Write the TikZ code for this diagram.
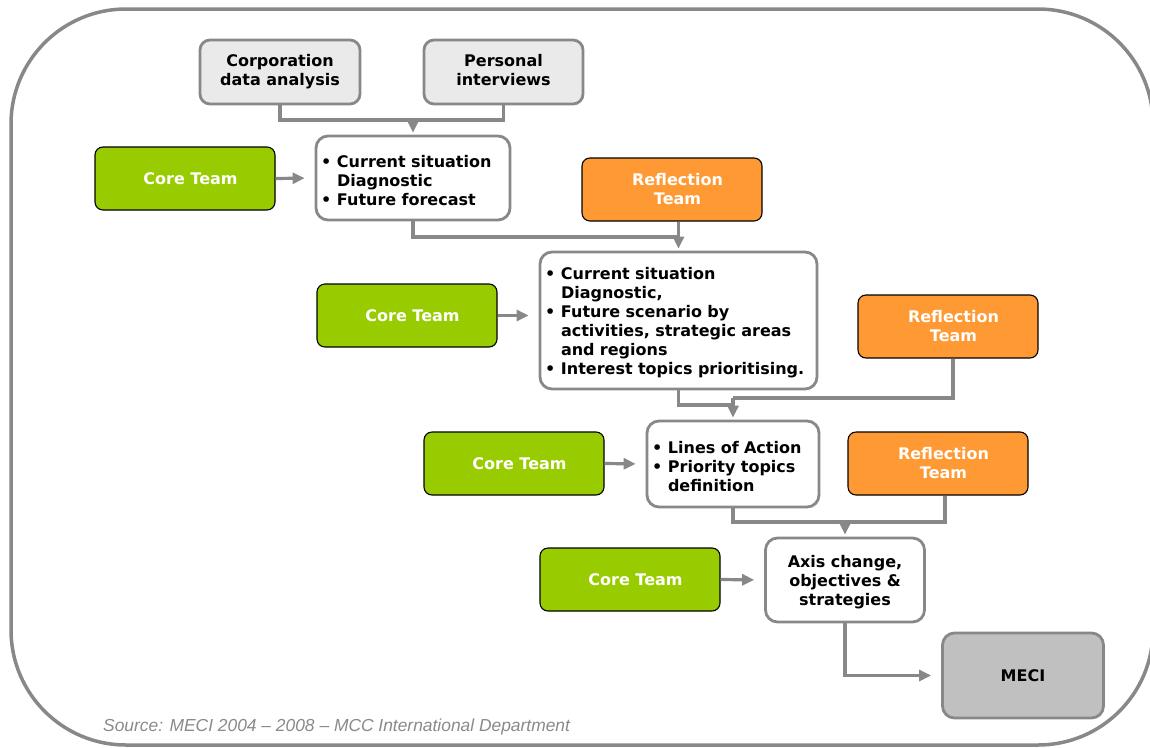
\documentclass[tikz,border=0pt]{standalone}
\usepackage{fontspec}
\setmainfont{DejaVu Sans}
\newfontfamily\srcfont{Liberation Sans}
\usetikzlibrary{arrows.meta}
\definecolor{linegray}{HTML}{888888}
\definecolor{inputgray}{HTML}{EAEAEA}
\definecolor{resultgray}{HTML}{C0C0C0}
\definecolor{coregreen}{HTML}{99CC00}
\definecolor{reflorange}{HTML}{FF9933}
\definecolor{srcgray}{HTML}{8A8A8A}
% bullet, continuation indent, first-line lift, label offset
\newcommand{\bl}{\makebox[16pt][l]{•}}
\newcommand{\cl}{\hspace*{16pt}}
\newcommand{\tl}{\rule{0pt}{17pt}}
\newcommand{\sh}{\hspace*{11pt}}
\begin{document}
\begin{tikzpicture}[x=1pt,y=-1pt,
  every node/.style={font=\bfseries\fontsize{16}{19}\selectfont},
  inputbox/.style={draw=linegray, line width=2.8pt, rounded corners=10pt,
    fill=inputgray, minimum width=160pt, minimum height=64pt, align=center, inner sep=0pt},
  stagebox/.style={draw=linegray, line width=2.8pt, rounded corners=12pt,
    fill=white, inner xsep=5pt, inner ysep=0pt, align=left},
  corebox/.style={draw=black, line width=1.1pt, rounded corners=8pt,
    fill=coregreen, text=white, minimum width=180pt, minimum height=63pt, inner sep=0pt},
  reflbox/.style={draw=black, line width=1.1pt, rounded corners=8pt,
    fill=reflorange, text=white, minimum width=180pt, minimum height=63pt,
    align=center, inner sep=0pt},
  resultbox/.style={draw=linegray, line width=2.8pt, rounded corners=12pt,
    fill=resultgray, minimum width=161pt, minimum height=85pt, inner sep=0pt},
  flow/.style={draw=linegray, line width=3.2pt},
  arr/.style={flow, -{Triangle[length=12pt,width=11pt]}, shorten >=2pt},
  sidearr/.style={arr, shorten >=10pt}
]
\useasboundingbox (0,0) rectangle (1150,747);

% outer frame
\draw[linegray, line width=3.5pt, rounded corners=115pt] (11,9) rectangle (1153,745);

% inputs
\node[inputbox] (corp) at (280,72) {\strut Corporation\\data analysis\strut};
\node[inputbox, minimum width=159pt] (pers) at (503.5,72) {\strut Personal\\interviews\strut};

% stage 1
\node[stagebox, text width=184pt, minimum height=84pt] (box1) at (413,178)
  {\tl\bl Current situation\\\cl Diagnostic\\\bl Future forecast};
\node[corebox] (core1) at (185,178.5) {\sh Core Team};
\node[reflbox] (refl1) at (672,189.5) {\sh Reflection\\\sh Team};

% stage 2
\node[stagebox, text width=267pt, minimum height=137pt] (box2) at (678.5,320.5)
  {\tl\bl Current situation\\\cl Diagnostic,\\\bl Future scenario by\\\cl activities, strategic areas\\\cl and regions\\\bl Interest topics prioritising.};
\node[corebox] (core2) at (407,315.5) {\sh Core Team};
\node[reflbox] (refl2) at (948,326.5) {\sh Reflection\\\sh Team};

% stage 3
\node[stagebox, text width=162pt, minimum height=86pt] (box3) at (733,464)
  {\tl\bl Lines of Action\\\bl Priority topics\\\cl definition};
\node[corebox] (core3) at (514,463.5) {\sh Core Team};
\node[reflbox] (refl3) at (938,463.5) {\sh Reflection\\\sh Team};

% stage 4
\node[stagebox, align=center, text width=149pt, minimum height=84pt] (box4) at (845,580)
  {\tl Axis change,\\objectives \&\\strategies};
\node[corebox] (core4) at (630,579.5) {\sh Core Team};

% result
\node[resultbox] (meci) at (1023,675.5) {MECI};

% source line
\node[font=\srcfont\itshape\fontsize{17.4}{19}\selectfont, text=srcgray, anchor=base west, inner sep=0pt]
  (src) at (103,731) {Source: MECI 2004 – 2008 – MCC International Department};

% junction points
\coordinate (j0) at (413,120);
\coordinate (j1) at (678.5,237);
\coordinate (j2) at (733,405);
\coordinate (j3) at (733,398);
\coordinate (j4) at (845,522);

% connectors
\draw[flow] (corp.south) |- (j0) -| (pers.south);
\draw[arr] (j0) -- (box1.north);
\draw[sidearr] (core1.east) -- (box1.west);

\draw[flow] (box1.south) |- (j1);
\draw[arr] (refl1.south -| box2.north) -- (box2.north);
\draw[sidearr] (core2.east) -- (core2.east -| box2.west);

\draw[flow] (box2.south) |- (j2);
\draw[flow] ([xshift=5pt]refl2.south) |- (j3);
\draw[arr] (j3) -- (box3.north);
\draw[sidearr] (core3.east) -- (box3.west);

\draw[flow] (box3.south) |- (j4) -| ([xshift=7pt]refl3.south);
\draw[arr] (j4) -- (box4.north);
\draw[sidearr] (core4.east) -- (box4.west);

\draw[arr, shorten >=10pt] (box4.south) |- (meci.west);
\end{tikzpicture}
\end{document}
